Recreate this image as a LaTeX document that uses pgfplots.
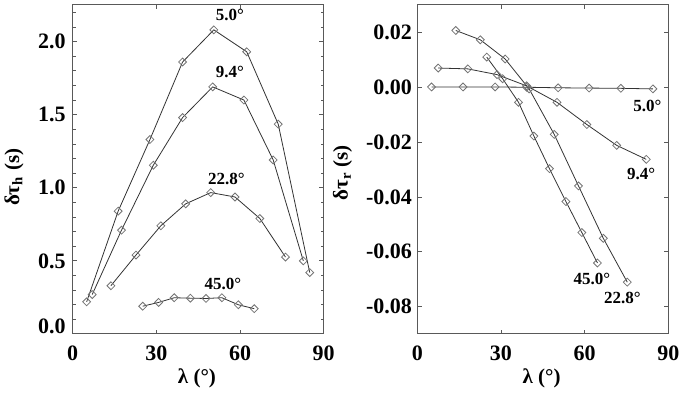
\documentclass[border=0pt]{standalone}
\usepackage{fontspec}
\setmainfont{Liberation Serif}
\usepackage{pgfplots}
\pgfplotsset{compat=1.18}

\definecolor{axgray}{gray}{0.35}
\definecolor{mkgray}{gray}{0.45}

\tikzset{lbl/.style={font=\fontsize{8.5}{10}\selectfont\bfseries, anchor=center}}

\pgfplotsset{
  panel/.style={
    scale only axis,
    width=125.5pt, height=164.5pt,
    xmin=0, xmax=90,
    xtick={0,30,60,90}, xticklabels={0,30,60,90},
    tick align=inside,
    major tick length=2.2pt, minor tick length=1.5pt,
    every tick/.style={axgray, line width=0.4pt},
    axis line style={axgray, line width=0.5pt},
    ticklabel style={font=\fontsize{11}{12}\selectfont\bfseries},
    label style={font=\fontsize{10.5}{12}\selectfont\bfseries},
    xticklabel shift=2.5pt,
    xlabel={λ (°)},
    xlabel style={at={(axis description cs:0.495,-0.134)}, anchor=center},
    every axis plot post/.append style={black!80, line width=0.4pt, mark=square,
      mark size=1.4pt, mark options={rotate=45, fill=white, draw=mkgray, solid}},
  },
}

\begin{document}
\begin{tikzpicture}
\useasboundingbox (-36.35pt,-30.5pt) rectangle (308.65pt,167pt);

% left panel
\begin{axis}[panel, at={(0pt,0pt)}, anchor=south west,
    ymin=0, ymax=2.25,
    ytick={0.5,1.0,1.5,2.0}, yticklabels={0.5,1.0,1.5,2.0},
    minor ytick={0.1,0.2,0.3,0.4,0.6,0.7,0.8,0.9,1.1,1.2,1.3,1.4,1.6,1.7,1.8,1.9,2.1,2.2},
    extra y ticks={0.05}, extra y tick labels={0.0},
    extra y tick style={major tick length=0pt},
    yticklabel shift=0pt,
    ylabel={δτ\textsubscript{h} (s)},
    ylabel style={at={(axis description cs:-0.234,0.476)}, anchor=center},
]
\addplot coordinates {(5.0,0.22) (16.3,0.84) (27.7,1.33) (39.4,1.86) (50.6,2.08) (62.4,1.93) (73.7,1.435) (85.0,0.42)};
\addplot coordinates {(7.0,0.27) (17.5,0.71) (28.9,1.154) (39.4,1.48) (50.2,1.69) (61.4,1.60) (71.9,1.19) (82.7,0.50)};
\addplot coordinates {(13.7,0.33) (22.7,0.54) (31.6,0.74) (40.5,0.89) (49.5,0.967) (58.2,0.937) (67.1,0.79) (76.3,0.526)};
\addplot coordinates {(25.1,0.19) (30.8,0.216) (36.4,0.248) (42.2,0.245) (47.8,0.243) (53.5,0.248) (59.4,0.20) (65.1,0.173)};
\node[lbl] at (axis cs:56.4,2.18) {5.0°};
\node[lbl] at (axis cs:56.4,1.79) {9.4°};
\node[lbl] at (axis cs:55.1,1.063) {22.8°};
\node[lbl] at (axis cs:53.9,0.344) {45.0°};
\end{axis}

% right panel
\begin{axis}[panel, at={(172.3pt,0pt)}, anchor=south west,
    ymin=-0.09, ymax=0.03,
    ytick={-0.08,-0.06,-0.04,-0.02,0,0.02},
    yticklabels={-0.08,-0.06,-0.04,-0.02,0.00,0.02},
    yticklabel shift=-0.8pt,
    ylabel={δτ\textsubscript{r} (s)},
    ylabel style={at={(axis description cs:-0.298,0.49)}, anchor=center},
]
\addplot coordinates {(5.1,0.0001) (16.4,0.0001) (27.9,0.0001) (39.2,0.0) (50.5,-0.0002) (61.6,-0.0003) (73.0,-0.0004) (84.5,-0.0006)};
\addplot coordinates {(7.5,0.0070) (18.1,0.0067) (28.6,0.0046) (39.2,0.0005) (50.1,-0.0055) (60.8,-0.0136) (71.5,-0.0212) (82.1,-0.0263)};
\addplot coordinates {(13.8,0.0207) (22.6,0.0173) (31.5,0.0103) (40.1,-0.0006) (49.1,-0.0172) (57.8,-0.0360) (66.7,-0.0551) (75.3,-0.0711)};
\addplot coordinates {(24.9,0.0110) (30.6,0.0031) (36.3,-0.0055) (41.8,-0.0178) (47.4,-0.0297) (53.3,-0.0417) (59.0,-0.0530) (64.6,-0.0641)};
\node[lbl] at (axis cs:82.5,-0.0069) {5.0°};
\node[lbl] at (axis cs:80.3,-0.0317) {9.4°};
\node[lbl] at (axis cs:62.6,-0.0700) {45.0°};
\node[lbl] at (axis cs:73.5,-0.0770) {22.8°};
\end{axis}
\end{tikzpicture}
\end{document}
